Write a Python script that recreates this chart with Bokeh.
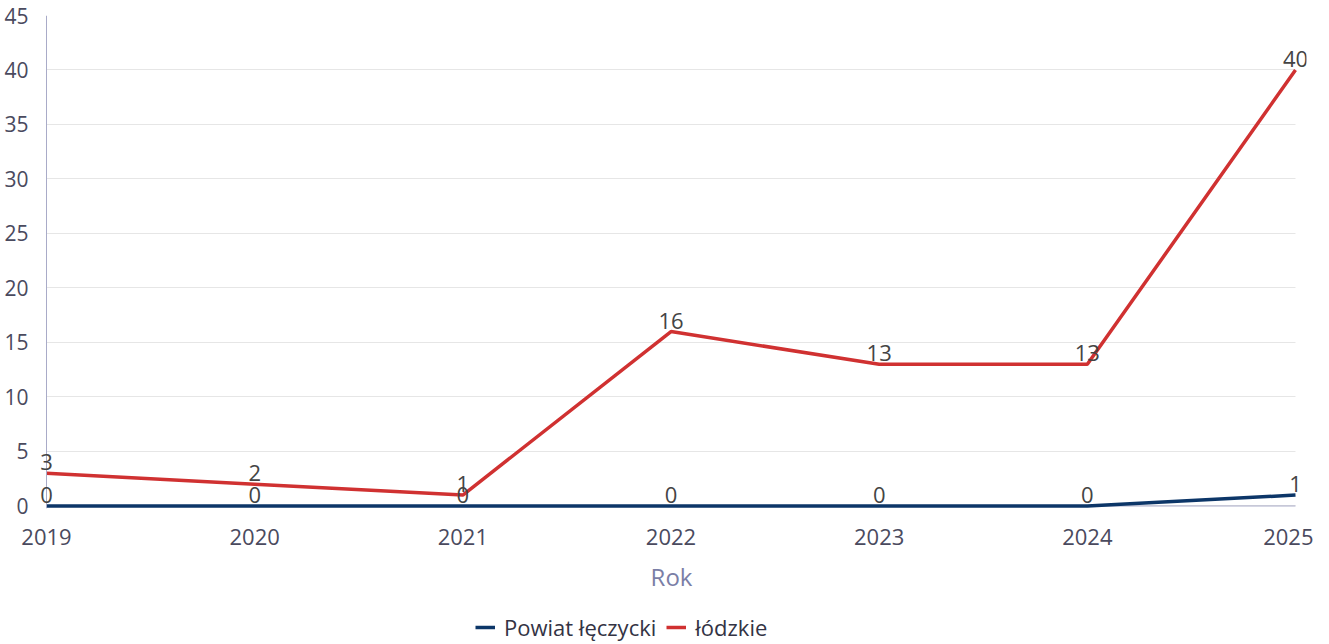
from bokeh.plotting import figure
from bokeh.layouts import column
from bokeh.models import ColumnDataSource, LabelSet, Legend, LegendItem, Range1d, FixedTicker, Span
from bokeh.core.properties import value
from bokeh.embed import file_html
from bokeh.resources import INLINE

years = [2019, 2020, 2021, 2022, 2023, 2024, 2025]
powiat = [0, 0, 0, 0, 0, 0, 1]
lodzkie = [3, 2, 1, 16, 13, 13, 40]
y_ticks = [0, 5, 10, 15, 20, 25, 30, 35, 40, 45]
series_names = ["Powiat łęczycki", "łódzkie"]
colors = ["#0c3668", "#d03131"]

FONT = "Open Sans"
AXIS_COLOR = "#a9abc8"

# px per year in the reference: 1249 / 6 ; px per unit: 490 / 45
pad_l = 10 / (1249 / 6)
pad_r = 11 / (1249 / 6)
pad_b = 2.5 / (490 / 45)

p = figure(width=1313, height=600, output_backend="svg", toolbar_location=None,
           x_range=Range1d(years[0] - pad_l, years[-1] + pad_r),
           y_range=Range1d(y_ticks[0] - pad_b, y_ticks[-1]),
           min_border_left=36, min_border_right=7, min_border_top=15, min_border_bottom=92)
p.outline_line_color = None
p.background_fill_color = "white"

src_p = ColumnDataSource(dict(x=years, y=powiat, t=[str(v) for v in powiat]))
src_l = ColumnDataSource(dict(x=years, y=lodzkie, t=[str(v) for v in lodzkie]))

# axis lines at x = first year and y = 0
p.add_layout(Span(location=years[0], dimension="height", line_color=AXIS_COLOR, line_width=1))
p.segment(x0=years[0], y0=y_ticks[0], x1=years[-1], y1=y_ticks[0], line_color=AXIS_COLOR, line_width=1)

r1 = p.line("x", "y", source=src_p, line_color=colors[0], line_width=3.5)
r2 = p.line("x", "y", source=src_l, line_color=colors[1], line_width=3.5)

for s in (src_p, src_l):
    p.add_layout(LabelSet(x="x", y="y", text="t", source=s, text_align="center",
                          text_baseline="alphabetic", y_offset=3, text_font=value(FONT),
                          text_font_size="22px", text_color="#444444"))

p.xaxis.ticker = FixedTicker(ticks=years)
p.yaxis.ticker = FixedTicker(ticks=y_ticks)
for ax in (p.xaxis, p.yaxis):
    ax.major_tick_line_color = None
    ax.minor_tick_line_color = None
    ax.axis_line_color = None
    ax.major_label_text_font = FONT
    ax.major_label_text_color = "#4a4a5e"
p.xaxis.major_label_text_font_size = "22px"
p.yaxis.major_label_text_font_size = "21px"
p.yaxis.major_label_standoff = 2
p.xaxis.major_label_standoff = 14
p.xaxis.axis_label = "Rok"
p.xaxis.axis_label_text_font = FONT
p.xaxis.axis_label_text_font_size = "24px"
p.xaxis.axis_label_text_font_style = "normal"
p.xaxis.axis_label_text_color = "#7a7ea6"
p.xaxis.axis_label_standoff = 12

p.xgrid.grid_line_color = None
p.ygrid.grid_line_color = "#e6e6e6"
p.ygrid.grid_line_width = 1
p.ygrid.cross_bounds = (years[0], years[-1])

# legend strip (its lines lie outside the strip's ranges; only the legend shows)
lg = figure(width=1313, height=44, output_backend="svg", toolbar_location=None,
            x_range=Range1d(0, 1), y_range=Range1d(0, 1),
            min_border_left=0, min_border_right=0, min_border_top=0, min_border_bottom=0)
lg.outline_line_color = None
lg.axis.visible = False
lg.grid.visible = False
d1 = lg.line(x=years, y=powiat, line_color=colors[0], line_width=3.5)
d2 = lg.line(x=years, y=lodzkie, line_color=colors[1], line_width=3.5)
legend = Legend(items=[LegendItem(label=series_names[0], renderers=[d1]),
                       LegendItem(label=series_names[1], renderers=[d2])],
                orientation="horizontal", location=(439, 2),
                label_text_font=FONT, label_text_font_size="22px", label_text_color="#333344",
                glyph_width=20, glyph_height=20, label_height=20, spacing=10, label_standoff=9,
                border_line_color=None, background_fill_alpha=0, padding=0, margin=0)
lg.add_layout(legend, "center")

layout = column(p, lg, spacing=0)
open("out.html", "w").write(file_html(layout, INLINE))
